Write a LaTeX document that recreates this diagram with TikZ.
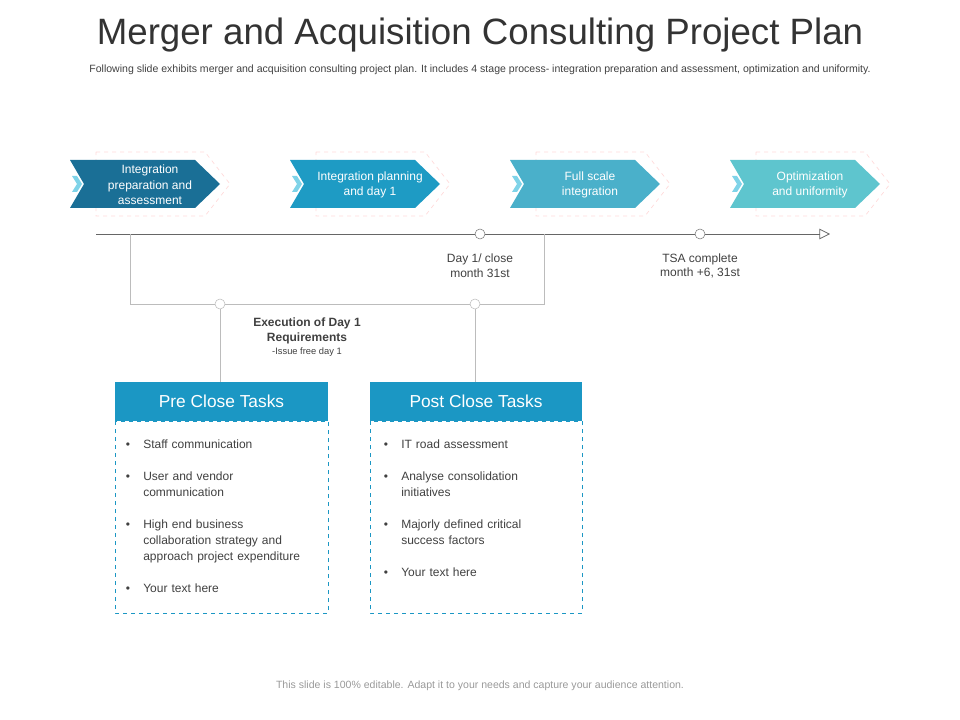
\documentclass[tikz,border=0pt]{standalone}
\usepackage{fontspec}
\setmainfont{Liberation Sans}
\usetikzlibrary{arrows.meta}
\definecolor{cA}{HTML}{1A6F96}
\definecolor{cB}{HTML}{1E9BC4}
\definecolor{cC}{HTML}{4AB0CA}
\definecolor{cD}{HTML}{5EC5CE}
\definecolor{hdr}{HTML}{1B97C4}
\definecolor{ico}{HTML}{7FD3E8}
\definecolor{gtx}{HTML}{404040}
\begin{document}
\begin{tikzpicture}[x=0.75pt,y=-0.75pt,
  ghost/.style={draw=red!15,dashed,line width=0.5pt},
  lbl/.style={text=white,font=\fontsize{9}{11.5}\selectfont,align=center},
  tl/.style={draw=gtx!80,line width=0.6pt},
  dot/.style={circle,draw=gtx!70,fill=white,inner sep=0pt,minimum size=7.5pt},
  ttl/.style={text=white,font=\fontsize{13}{15}\selectfont},
  body/.style={align=left,font=\fontsize{9}{12}\selectfont,text=gtx,anchor=north west,text width=140pt},
  note/.style={font=\fontsize{9}{11}\selectfont,text=gtx,align=center}]
\useasboundingbox (0,0) rectangle (960,720);
\node (title) at (480,35) {\fontsize{27.5}{30}\selectfont\color{black!80}Merger and Acquisition Consulting Project Plan};
\node (sub) at (480,70) {\fontsize{7.9}{9}\selectfont\color{gtx}Following slide exhibits merger and acquisition consulting project plan.  It includes 4 stage process- integration preparation and assessment, optimization and uniformity.};
% chevrons
\foreach \x/\c/\t/\n in {70/cA/{Integration\\preparation and\\assessment}/a1,290/cB/{Integration planning\\and day 1}/a2,510/cC/{Full scale\\integration}/a3,730/cD/{Optimization\\and uniformity}/a4}{
  \draw[ghost] (\x+26,152) -- (\x+135,152) -- (\x+160,184) -- (\x+135,216) -- (\x+26,216) -- cycle;
  \fill[\c] (\x,160) -- (\x+125,160) -- (\x+150,184) -- (\x+125,208) -- (\x,208) -- (\x+14,184) -- cycle;
  \fill[ico] (\x+2,176) -- (\x+7,176) -- (\x+12,184) -- (\x+7,192) -- (\x+2,192) -- (\x+7,184) -- cycle;
  \node[lbl] (\n) at (\x+80,185) {\t};
}
% timeline
\coordinate (ts) at (96,234);
\coordinate (te) at (830,234);
\draw[tl,-{Triangle[open,length=8pt,width=8pt]}] (ts) -- (te);
\coordinate (b1) at (130,234);\coordinate (b2) at (130,304);\coordinate (b3) at (544,304);\coordinate (b4) at (544,234);
\draw[draw=gtx!35,line width=0.6pt] (b1) -- (b2) -- (b3) -- (b4);
\node[dot] (d1) at (480,234) {};
\node[dot] (d2) at (700,234) {};
\node[note] (n1) at (480,266) {Day 1/ close\\month 31st};
\node[note] (n2) at (700,266) {TSA complete\\month +6, 31st};
% boxes
\draw[hdr,dashed,line width=0.6pt] (115,421) rectangle (328,613);
\draw[hdr,dashed,line width=0.6pt] (370,421) rectangle (582,613);
\node[fill=hdr,minimum width=159.75pt,minimum height=29.25pt,inner sep=0pt,ttl] (pre) at (221.5,401.5) {Pre Close Tasks};
\node[fill=hdr,minimum width=159pt,minimum height=29.25pt,inner sep=0pt,ttl] (post) at (476,401.5) {Post Close Tasks};
\node[dot,draw=gtx!35] (c1) at (220,304) {};
\node[dot,draw=gtx!35] (c2) at (475,304) {};
\draw[draw=gtx!35,line width=0.6pt] (c1) -- (c1|-pre.north);
\draw[draw=gtx!35,line width=0.6pt] (c2) -- (c2|-post.north);
\node[note] (ex) at (307,337) {\textbf{Execution of Day 1}\\\textbf{Requirements}\\[-1pt]{\fontsize{7}{9}\selectfont -Issue free day 1}};
\newcommand{\bul}[3]{\node[font=\fontsize{9}{12}\selectfont,text=gtx,anchor=north,inner sep=0pt] at (#1-18,#2) {\strut\textbullet}; \node[body,inner sep=0pt] at (#1-3,#2) {\strut#3};}
\bul{146}{437}{Staff communication}
\bul{146}{469}{User and vendor\\communication}
\bul{146}{517}{High end business\\collaboration strategy and\\approach project expenditure}
\bul{146}{581}{Your text here}
\bul{404}{437}{IT road assessment}
\bul{404}{469}{Analyse consolidation\\initiatives}
\bul{404}{517}{Majorly defined critical\\success factors}
\bul{404}{565}{Your text here}
\node (foot) at (480,686) {\fontsize{7.9}{9}\selectfont\color{gray!80}This slide is 100\% editable. Adapt it to your needs and capture your audience attention.};
\end{tikzpicture}
\end{document}
